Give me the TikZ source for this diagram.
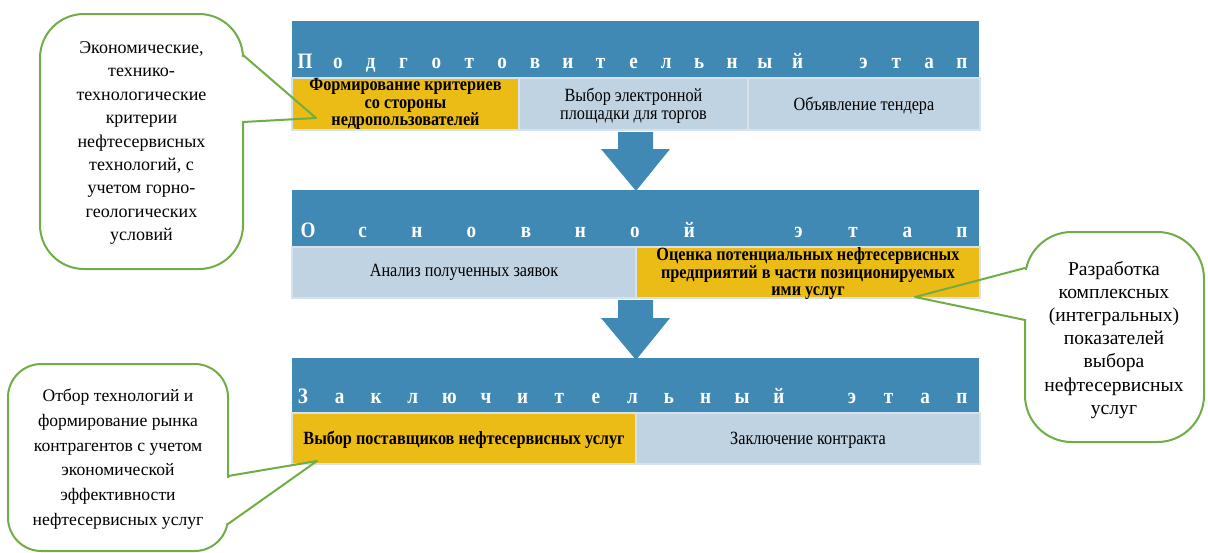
\documentclass[tikz,border=0pt]{standalone}
\usepackage{fontspec}
\setmainfont{Liberation Serif}
\newfontfamily\condf[FakeStretch=0.87]{Liberation Serif}
\definecolor{hblue}{RGB}{65,137,181}
\definecolor{cblue}{RGB}{192,211,226}
\definecolor{cedge}{RGB}{214,226,236}
\definecolor{cyel}{RGB}{235,187,22}
\definecolor{cgreen}{RGB}{112,173,71}
\begin{document}
\begin{tikzpicture}[x=0.75pt,y=-0.75pt,
  cell/.style={fill=cblue,draw=cedge,line width=1.2pt},
  ycell/.style={fill=cyel,draw=cedge,line width=1.2pt},
  letter/.style={text=white,font=\condf\bfseries\fontsize{16.5}{17}\selectfont,anchor=base,inner sep=0pt},
  ctext/.style={align=center,font=\condf\fontsize{14}{13.1}\selectfont,text=black,inner sep=0pt},
  cbold/.style={align=center,font=\condf\bfseries\fontsize{14}{13.1}\selectfont,text=black,inner sep=0pt},
  callout/.style={draw=cgreen,line width=1.5pt,line join=round},
  ctxt/.style={align=center,inner sep=0pt,text=black}]
\useasboundingbox (0,0) rectangle (1208,553);

% ---- top stage
\fill[hblue] (292,21) rectangle (979,78);
\draw[ycell] (292,78) rectangle (519,130);
\draw[cell] (519,78) rectangle (748,130);
\draw[cell] (748,78) rectangle (980,130);
\foreach \ch [count=\i from 0] in {П,о,д,г,о,т,о,в,и,т,е,л,ь,н,ы,й,{},э,т,а,п}
  {\node[letter] (ta\i) at ({305+\i*32.85},68) {\ch};}
\node[cbold] (c11) at (405.5,104) {Формирование критериев\\со стороны\\недропользователей};
\node[ctext] (c12) at (633.5,106) {Выбор электронной\\площадки для торгов};
\node[ctext] (c13) at (864,106) {Объявление тендера};

% ---- arrow 1
\fill[hblue] (618,132) -- (653,132) -- (653,149) -- (670,149) -- (636,191) -- (601,149) -- (618,149) -- cycle;

% ---- middle stage
\fill[hblue] (292,190) rectangle (979,247);
\draw[cell] (292,247) rectangle (636,298);
\draw[ycell] (636,247) rectangle (980,298);
\foreach \ch [count=\i from 0] in {О,с,н,о,в,н,о,й,{},э,т,а,п}
  {\node[letter] (tb\i) at ({308+\i*54.5},237) {\ch};}
\node[ctext] (c21) at (464,272) {Анализ полученных заявок};
\node[cbold] (c22) at (808,274) {Оценка потенциальных нефтесервисных\\предприятий в части позиционируемых\\ими услуг};

% ---- arrow 2
\fill[hblue] (618,300) -- (653,300) -- (653,318) -- (670,318) -- (636,360) -- (601,318) -- (618,318) -- cycle;

% ---- bottom stage
\fill[hblue] (292,358) rectangle (979,413);
\draw[ycell] (292,413) rectangle (636,464);
\draw[cell] (636,413) rectangle (980,464);
\foreach \ch [count=\i from 0] in {З,а,к,л,ю,ч,и,т,е,л,ь,н,ы,й,{},э,т,а,п}
  {\node[letter] (tc\i) at ({303+\i*36.6},403) {\ch};}
\node[cbold] (c31) at (464,440) {Выбор поставщиков нефтесервисных услуг};
\node[ctext] (c32) at (808,440) {Заключение контракта};

% ---- callouts
\draw[callout,rounded corners=33] (40,14) rectangle (243,269);
\fill[white] (241,56.5) rectangle (247,120.5);
\draw[callout] (243,55) -- (316,118) -- (243,122);
\node[ctxt,font=\fontsize{13.5}{17.6}\selectfont] (n1) at (141.5,143) {Экономические,\\технико-\\технологические\\критерии\\нефтесервисных\\технологий, с\\учетом горно-\\геологических\\условий};

\draw[callout,rounded corners=35] (1025,232) rectangle (1204,442);
\fill[white] (1022,269.5) rectangle (1028,318.5);
\draw[callout] (1025,268) -- (915,297) -- (1025,320);
\node[ctxt,font=\fontsize{14.7}{17.3}\selectfont] (n2) at (1114,340) {Разработка\\комплексных\\(интегральных)\\показателей\\выбора\\нефтесервисных\\услуг};

\draw[callout,rounded corners=25] (8,364) rectangle (228,551);
\fill[white] (225,477.5) rectangle (231,522.5);
\draw[callout] (228,476) -- (317,461) -- (228,524);
\node[ctxt,font=\fontsize{13.2}{18.6}\selectfont] (n3) at (118,459) {Отбор технологий и\\формирование рынка\\контрагентов с учетом\\экономической\\эффективности\\нефтесервисных услуг};
\end{tikzpicture}
\end{document}
